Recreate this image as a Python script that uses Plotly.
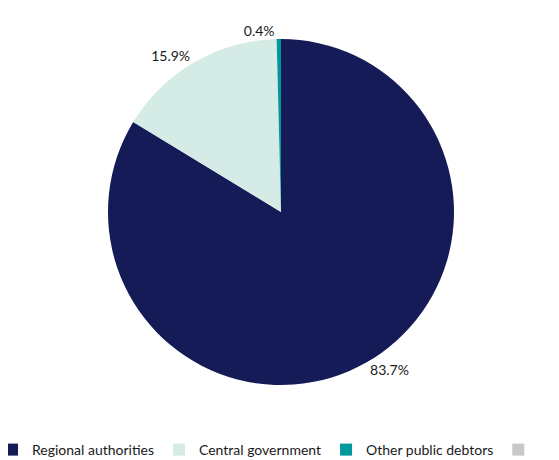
import plotly.graph_objects as go

labels = ["Regional authorities", "Central government", "Other public debtors", " "]
values = [83.7, 15.9, 0.4, 0.0]
colors = ["#141b56", "#d4ebe6", "#00989b", "#c8c8c8"]
texts = ["83.7%", "15.9%", "0.4%", ""]

W, H = 559, 460
MB = 30
PH = H - MB
cx, cy, r = 273, 204, 173

fig = go.Figure(go.Pie(
    labels=labels, values=values, text=texts,
    textinfo="text", textposition="outside",
    sort=False, direction="clockwise", rotation=0,
    marker=dict(colors=colors, line=dict(width=0)),
    textfont=dict(family="Lato, Liberation Sans, sans-serif", size=14, color="#1a1a1a"),
    domain=dict(x=[(cx - r) / W, (cx + r) / W], y=[(PH - (cy + r)) / PH, (PH - (cy - r)) / PH]),
    showlegend=True,
))
fig.update_layout(
    width=W, height=H,
    margin=dict(l=0, r=0, t=0, b=MB, autoexpand=False),
    paper_bgcolor="white",
    font=dict(family="Lato, Liberation Sans, sans-serif", size=14, color="#1a1a1a"),
    legend=dict(orientation="h", x=-16 / W, xanchor="left", y=(PH - 442) / PH, yanchor="middle",
                traceorder="normal", itemwidth=30, font=dict(size=14)),
)
fig.write_html("out.html")
